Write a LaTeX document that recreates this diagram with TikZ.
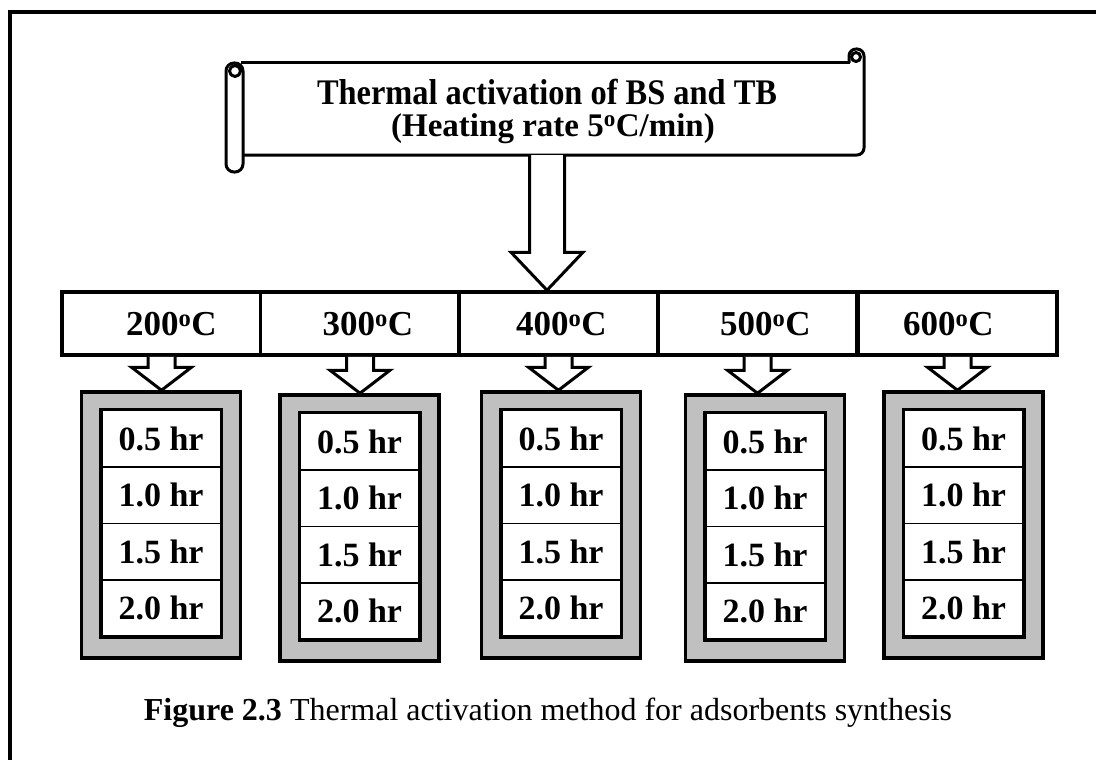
\documentclass[tikz,border=0pt]{standalone}
\usepackage{fontspec}
\setmainfont{Liberation Serif}
\newfontfamily\condfont[FakeStretch=0.9]{Liberation Serif}
\usetikzlibrary{calc}
\definecolor{greyfill}{RGB}{192,192,192}
\newcommand\blockarrow[5]{%
  \draw[blockarr] ($(#1)+(-#3,0)$) -- ($(#1 |- #2)+(-#3,-#5)$) -- ($(#1 |- #2)+(-#4,-#5)$) -- (#1 |- #2) -- ($(#1 |- #2)+(#4,-#5)$) -- ($(#1 |- #2)+(#3,-#5)$) -- ($(#1)+(#3,0)$);}
\tikzset{
  pageborder/.style={line width=4.5pt},
  scrollline/.style={line width=3pt, line join=round},
  blockarr/.style={draw=black, fill=white, line width=3pt, line join=miter},
  tbox/.style={draw, line width=3.5pt, fill=white, minimum width=199pt, minimum height=63pt, inner sep=0pt},
  ttext/.style={font=\bfseries\fontsize{35}{40}\selectfont, inner sep=0pt},
  gbox/.style={draw, line width=3.5pt, fill=greyfill, minimum width=159pt, minimum height=266pt, inner sep=0pt},
  rowbox/.style={draw, line width=1.5pt, fill=white, minimum width=119pt, minimum height=56.5pt, inner sep=0pt, font=\bfseries\fontsize{34}{38}\selectfont},
  innerframe/.style={line width=3.5pt},
  titleA/.style={font=\condfont\bfseries\fontsize{36}{40}\selectfont, inner sep=0pt, text height=24pt, text depth=0pt},
  titleB/.style={font=\bfseries\fontsize{33}{36}\selectfont, inner sep=0pt, text height=22pt, text depth=6pt},
  captext/.style={font=\fontsize{32}{38}\selectfont, inner sep=0pt},
}
\begin{document}
\begin{tikzpicture}[x=1pt,y=-1pt]
\useasboundingbox (0,0) rectangle (1096,760);
% page border (top and left)
\draw[pageborder] (1096,12) -- (10,12) -- (10,760);

% scroll banner
\node[minimum width=620pt, minimum height=92pt, inner sep=0pt] (title) at (552,109) {};
\fill[white] (241,63) rectangle (863,155);
\draw[scrollline, fill=white, rounded corners=7pt] (849,63) -- (849,49) -- (864,49) -- (864,155) -- (243,155);
\draw[scrollline] (241,63) -- (850,63);
\draw[scrollline, fill=white] (856,57) circle (4.5pt);
\draw[scrollline, fill=white, rounded corners=8pt] (226,63) rectangle (243,172);
\draw[scrollline, fill=white] (235,71) circle (5.5pt);
\node[titleA] (tl1) at ($(title)+(-5,-17)$) {Thermal activation of BS and TB};
\node[titleB] (tl2) at ($(title)+(1,19)$) {(Heating rate 5\textsuperscript{o}C/min)};

% temperature band
\node[tbox] (t1) at (161.5,323.5) {};
\node[tbox] (t2) at (360,323.5) {};
\node[tbox] (t3) at (558.5,323.5) {};
\node[tbox] (t4) at (757.5,323.5) {};
\node[tbox] (t5) at (957.5,323.5) {};
\node[ttext] (l1) at ($(t1)+(10,1)$) {200\textsuperscript{o}C};
\node[ttext] (l2) at ($(t2)+(8,1)$) {300\textsuperscript{o}C};
\node[ttext] (l3) at ($(t3)+(3,1)$) {400\textsuperscript{o}C};
\node[ttext] (l4) at ($(t4)+(8,1)$) {500\textsuperscript{o}C};
\node[ttext] (l5) at ($(t5)+(-9,1)$) {600\textsuperscript{o}C};

% main arrow
\coordinate (ms) at ($(title.south)+(-5,0)$);
\blockarrow{ms}{t3.north}{17.5}{36}{38}

% grey boxes
\node[gbox] (g1) at (161,525) {};
\node[gbox] (g2) at (359.5,528) {};
\node[gbox] (g3) at (561,525) {};
\node[gbox] (g4) at (765,528) {};
\node[gbox] (g5) at (963.5,525) {};

% small arrows
\blockarrow{t1.south}{g1.north}{13.5}{30}{23}
\blockarrow{t2.south}{g2.north}{13.5}{30}{23}
\blockarrow{t3.south}{g3.north}{13.5}{30}{23}
\blockarrow{t4.south}{g4.north}{13.5}{30}{23}
\blockarrow{t5.south}{g5.north}{13.5}{30}{23}

% rows
\foreach \g in {1,...,5}{
  \node[rowbox] (r\g a) at ($(g\g.north)+(0,48.25)$) {0.5 hr};
  \node[rowbox] (r\g b) at ($(r\g a)+(0,56.5)$) {1.0 hr};
  \node[rowbox] (r\g c) at ($(r\g b)+(0,56.5)$) {1.5 hr};
  \node[rowbox] (r\g d) at ($(r\g c)+(0,56.5)$) {2.0 hr};
  \draw[innerframe] (r\g a.north west) rectangle (r\g d.south east);
}

% caption
\node[captext] (cap) at (548,713) {\textbf{Figure 2.3} Thermal activation method for adsorbents synthesis};
\end{tikzpicture}
\end{document}
